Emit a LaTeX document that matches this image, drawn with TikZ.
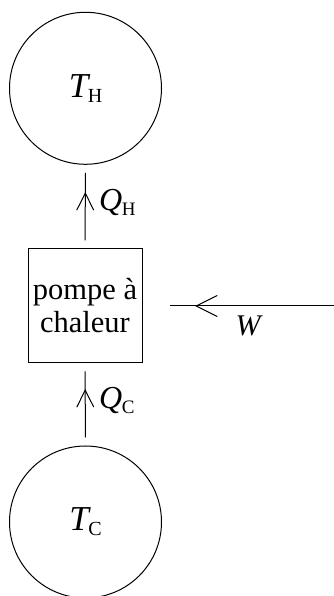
\documentclass[tikz,border=0pt]{standalone}
\usepackage{fontspec}
\setmainfont{Liberation Serif}
\usetikzlibrary{decorations.markings}
\newcommand{\mylbl}[4]{{\fontsize{#1}{#1}\selectfont\itshape #2}\kern-0.5pt\raisebox{-5pt}{\fontsize{#3}{#3}\selectfont #4}}
\tikzset{
  reservoir/.style={draw, circle, line width=1pt, minimum size=152pt, inner sep=0pt},
  machine/.style={draw, rectangle, line width=1pt, minimum width=114pt, minimum height=114pt, inner sep=0pt, align=center, font=\fontsize{30.5}{33}\selectfont},
  flow/.style={line width=1pt},
  headline/.style={line width=1pt, shorten <=0pt, shorten >=0pt},
  midarrow/.style={postaction={decorate}, decoration={markings, mark=at position #1 with {\draw[headline] (-17pt,-8.5pt) -- (0pt,0pt) -- (-17pt,8.5pt);}}},
  bigarrow/.style={postaction={decorate}, decoration={markings, mark=at position #1 with {\draw[headline] (-21pt,-10.5pt) -- (0pt,0pt) -- (-21pt,10.5pt);}}},
  lab/.style={inner sep=0pt}
}
\begin{document}
\begin{tikzpicture}[x=1pt,y=1pt]
\useasboundingbox (0,0) rectangle (334,596);
\node[reservoir] (hot) at (85.5,507.7) {\mylbl{35}{T}{20}{H}};
\node[machine] (pump) at (85,290) {pompe à\\chaleur};
\node[reservoir] (cold) at (85.5,74) {\mylbl{35}{T}{20}{C}};
\coordinate (wsrc) at (334,290);
\draw[flow, shorten <=8pt, shorten >=8pt, midarrow=0.661] (pump.north) -- (hot.south);
\draw[flow, shorten <=8pt, shorten >=8pt, midarrow=0.675] (cold.north) -- (pump.south);
\draw[flow, shorten >=27pt, bigarrow=0.719] (wsrc) -- (pump.east);
\node[lab, anchor=base west] (qh) at (99,385) {\mylbl{32}{Q}{19}{H}};
\node[lab, anchor=base west] (qc) at (99,187) {\mylbl{32}{Q}{19}{C}};
\node[lab] (w) at (248,270) {\fontsize{30}{30}\selectfont\itshape W};
\end{tikzpicture}
\end{document}
